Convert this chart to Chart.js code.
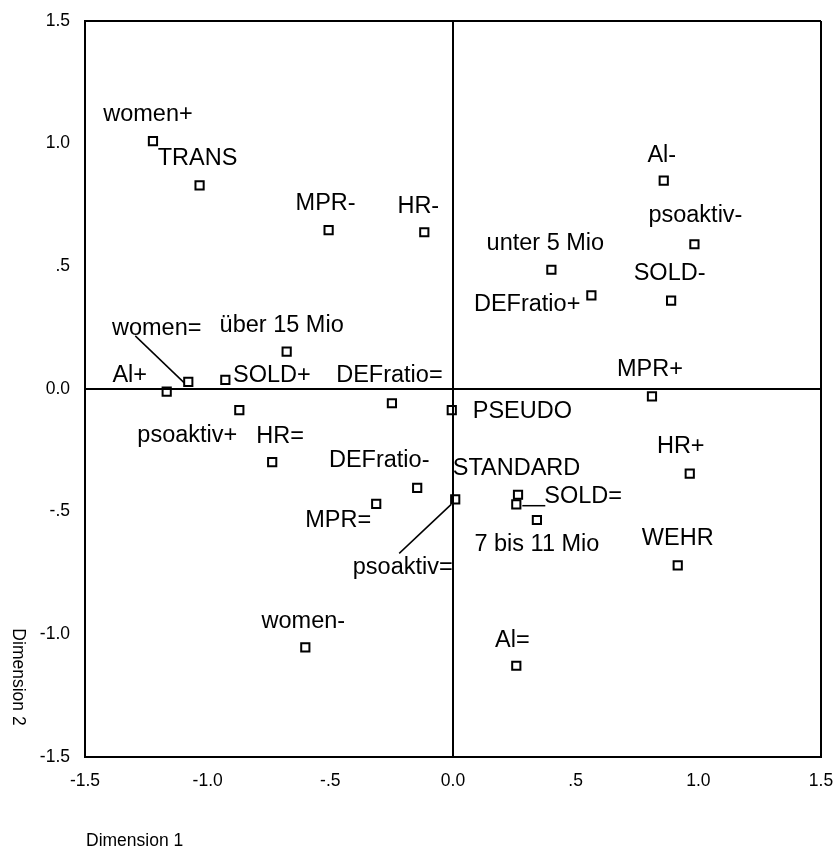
<!DOCTYPE html>
<html>
<head>
<meta charset="utf-8">
<script src="https://cdn.jsdelivr.net/npm/chart.js@4.4.0/dist/chart.umd.min.js"></script>
<style>
    html, body { margin: 0; padding: 0; background: #fff; }
    #wrap { width: 837px; height: 847px; }
</style>
</head>
<body>
<div id="wrap"><canvas id="mcaChart" width="837" height="847"></canvas></div>
<script>
// category points (joint plot of category points)
const categories = [
    'women+', 'TRANS', 'MPR-', 'HR-', 'über 15 Mio', 'women=', 'Al+', 'SOLD+',
    'psoaktiv+', 'DEFratio=', 'Al-', 'psoaktiv-', 'unter 5 Mio', 'DEFratio+',
    'SOLD-', 'MPR+', 'PSEUDO', 'HR=', 'DEFratio-', 'MPR=', 'women-', 'psoaktiv=',
    'STANDARD', 'SOLD=', '7 bis 11 Mio', 'HR+', 'WEHR', 'Al='
];
const dim1 = [
    -1.223, -1.033, -0.507, -0.117, -0.678, -1.079, -1.167, -0.928,
    -0.871, -0.249, 0.859, 0.984, 0.401, 0.564,
    0.889, 0.811, -0.005, -0.737, -0.146, -0.313, -0.602, 0.009,
    0.265, 0.258, 0.342, 0.965, 0.916, 0.258
];
const dim2 = [
    1.010, 0.830, 0.648, 0.639, 0.152, 0.029, -0.011, 0.037,
    -0.086, -0.058, 0.849, 0.590, 0.486, 0.382,
    0.360, -0.030, -0.086, -0.298, -0.403, -0.468, -1.053, -0.450,
    -0.431, -0.470, -0.534, -0.345, -0.719, -1.128
];
const tickValues = [-1.5, -1, -0.5, 0, 0.5, 1, 1.5];
const tickLabels = ['-1.5', '-1.0', '-.5', '0.0', '.5', '1.0', '1.5'];

// label offsets from the marker (px), leader lines where the label sits apart
const labelPlacement = {
    'women+': { dx: -5, dy: -20 },
    'TRANS': { dx: -2, dy: -20 },
    'HR-': { dx: -6, dy: -19 },
    'über 15 Mio': { dx: -5, dy: -20 },
    'women=': { dx: -31.6, dy: -47, leader: [-4, 1, -53, -46] },
    'Al+': { dx: -37, dy: -10 },
    'SOLD+': { dx: 7.7, dy: 2, align: 'left' },
    'psoaktiv+': { dx: -52, dy: 32 },
    'DEFratio=': { dx: -2.5, dy: -21 },
    'Al-': { dx: -2, dy: -19 },
    'psoaktiv-': { dx: 1, dy: -22 },
    'unter 5 Mio': { dx: -6, dy: -20 },
    'DEFratio+': { dx: -11, dy: 16, align: 'right' },
    'SOLD-': { dx: -1.5, dy: -21 },
    'MPR+': { dx: -2, dy: -20 },
    'PSEUDO': { dx: 21, dy: 8, align: 'left' },
    'HR=': { dx: 8, dy: -19 },
    'DEFratio-': { dx: -38, dy: -21 },
    'MPR=': { dx: -38, dy: 23 },
    'women-': { dx: -2, dy: -19 },
    'psoaktiv=': { dx: -52.5, dy: 75, leader: [-4, 5, -56, 54] },
    'STANDARD': { dx: -1.5, dy: -20 },
    'SOLD=': { dx: 28, dy: -1, align: 'left', leader: [6, 1.4, 29, 1.4] },
    '7 bis 11 Mio': { dx: 0, dy: 31 },
    'HR+': { dx: -9, dy: -21 },
    'WEHR': { dx: 0, dy: -20 },
    'Al=': { dx: -4, dy: -19 }
};

const FONT = "'Liberation Sans', Arial, sans-serif";
Chart.defaults.font.family = FONT;
Chart.defaults.color = '#000';

const isFrameLine = (v) => Math.abs(v) < 1e-9 || Math.abs(Math.abs(v) - 1.5) < 1e-9;

// point labels, leader lines and axis titles
const pointLabels = {
    id: 'pointLabels',
    afterDatasetsDraw(chart) {
        const ctx = chart.ctx;
        const xs = chart.scales.x, ys = chart.scales.y;
        ctx.save();
        ctx.fillStyle = '#000';
        ctx.strokeStyle = '#000';
        ctx.lineWidth = 1.5;
        ctx.font = '23.5px ' + FONT;
        ctx.textBaseline = 'alphabetic';
        categories.forEach((name, i) => {
            const px = xs.getPixelForValue(dim1[i]);
            const py = ys.getPixelForValue(dim2[i]);
            const p = labelPlacement[name] || { dx: -3, dy: -20 };
            ctx.textAlign = p.align || 'center';
            ctx.fillText(name, px + p.dx, py + p.dy);
            if (p.leader) {
                ctx.beginPath();
                ctx.moveTo(px + p.leader[0], py + p.leader[1]);
                ctx.lineTo(px + p.leader[2], py + p.leader[3]);
                ctx.stroke();
            }
        });

        ctx.font = '17.5px ' + FONT;
        ctx.textAlign = 'left';
        ctx.fillText('Dimension 1', 86, 846);

        ctx.translate(17.5, 677);
        ctx.rotate(Math.PI / 2);
        ctx.textAlign = 'center';
        ctx.textBaseline = 'middle';
        ctx.fillText('Dimension 2', 0, 0);
        ctx.restore();
    }
};

const axisOpts = (fitFn, pad) => ({
    type: 'linear',
    min: -1.5,
    max: 1.5,
    afterBuildTicks: (s) => { s.ticks = tickValues.map(v => ({ value: v })); },
    afterFit: (s) => {
        fitFn(s);
        // keep the plot frame where the layout padding puts it
        s.paddingLeft = s.paddingRight = s.paddingTop = s.paddingBottom = 0;
    },
    border: { display: true, color: '#000', width: 2 },
    grid: {
        drawTicks: false,
        lineWidth: 2,
        color: (c) => (c.tick && isFrameLine(c.tick.value)) ? '#000' : 'rgba(0,0,0,0)'
    },
    ticks: {
        padding: pad,
        color: '#000',
        font: { size: 17.5 },
        callback: (v, i) => tickLabels[i]
    }
});

const ctxScatter = document.getElementById('mcaChart').getContext('2d');
const mcaChart = new Chart(ctxScatter, {
    type: 'scatter',
    data: {
        datasets: [{
            label: 'Category points',
            data: dim1.map((x, i) => ({ x: x, y: dim2[i] })),
            pointStyle: 'rect',
            pointRadius: 5.8,
            pointHoverRadius: 5.8,
            borderWidth: 2,
            borderColor: '#000',
            backgroundColor: 'rgba(0,0,0,0)'
        }]
    },
    options: {
        responsive: false,
        animation: false,
        layout: { padding: { top: 21, right: 16, left: 0, bottom: 0 } },
        scales: {
            x: axisOpts((s) => { s.height = 90; }, 14),
            y: axisOpts((s) => { s.width = 85; }, 15)
        },
        plugins: {
            legend: { display: false },
            tooltip: { enabled: false }
        }
    },
    plugins: [pointLabels]
});
</script>
</body>
</html>
